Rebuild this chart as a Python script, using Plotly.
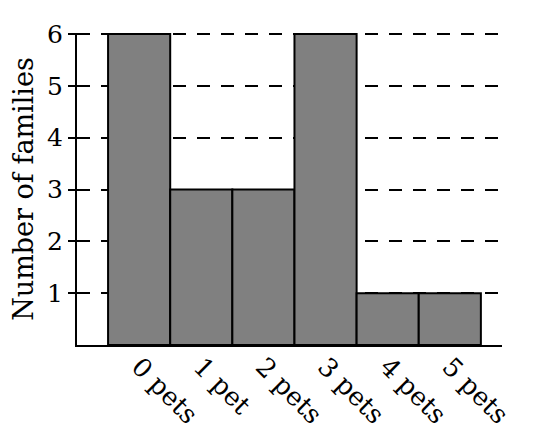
import plotly.graph_objects as go

categories = ["0 pets", "1 pet", "2 pets", "3 pets", "4 pets", "5 pets"]
families = [6, 3, 3, 6, 1, 1]
y_ticks = [1, 2, 3, 4, 5, 6]

font_family = "DejaVu Serif"

fig = go.Figure()
fig.add_trace(go.Bar(
    x=list(range(len(categories))),
    y=families,
    width=1.0,
    marker=dict(color="#808080", line=dict(color="black", width=2)),
))

# page body has an 8px margin, so pull everything up/left by 8px
fig.update_layout(
    width=532,
    height=428,
    margin=dict(l=69, r=38, t=25, b=91),
    paper_bgcolor="white",
    plot_bgcolor="white",
    showlegend=False,
    font=dict(family=font_family, size=25, color="black"),
)
fig.update_xaxes(
    range=[-1, 5.84],
    tickmode="array",
    tickvals=list(range(len(categories))),
    ticktext=categories,
    tickangle=45,
    ticks="",
    ticklabelstandoff=-6,
    showgrid=False,
    showline=True,
    linecolor="black",
    linewidth=2,
    zeroline=False,
    automargin=False,
    tickfont=dict(size=26),
)
fig.update_yaxes(
    range=[0, 6.02],
    tickvals=y_ticks,
    ticks="outside",
    ticklen=7,
    tickwidth=2,
    tickcolor="black",
    showline=True,
    linecolor="black",
    linewidth=2,
    showgrid=True,
    gridcolor="black",
    gridwidth=2,
    griddash="13px,11px",
    zeroline=False,
    automargin=False,
    title=dict(text="Number of families", standoff=18, font=dict(size=27)),
)

fig.write_html("out.html")
